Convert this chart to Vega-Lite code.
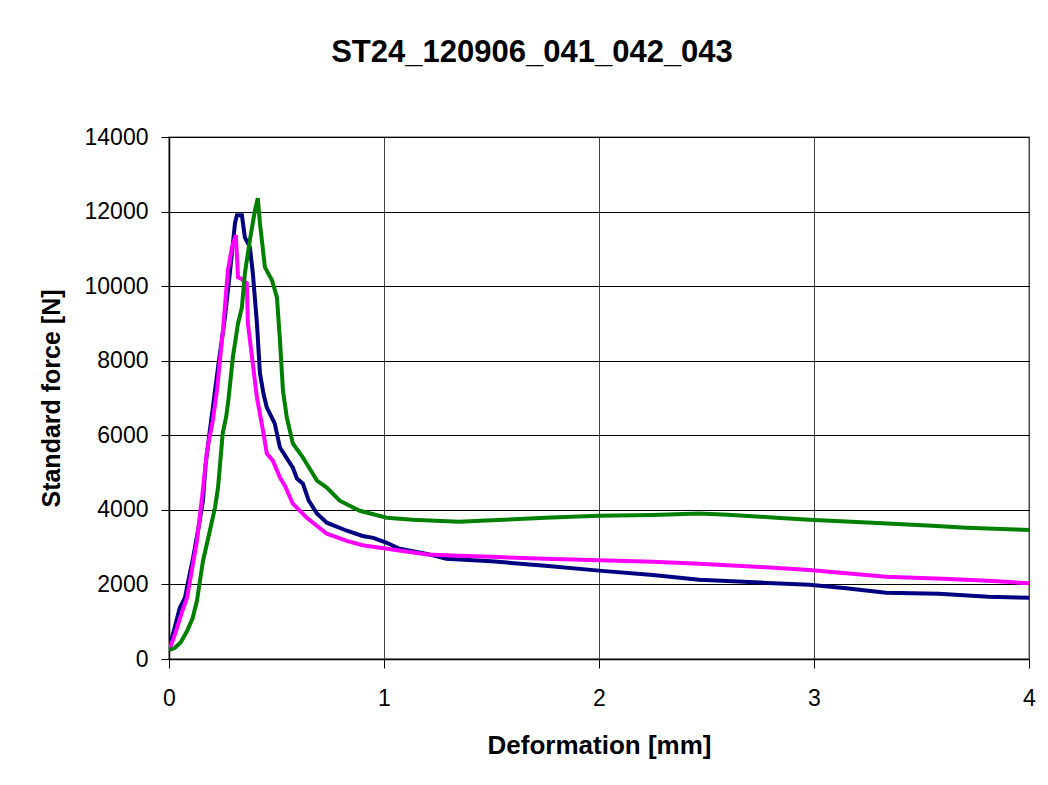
{
  "$schema": "https://vega.github.io/schema/vega-lite/v6.json",
  "autosize": {"type": "none"},
  "width": 860,
  "height": 522,
  "padding": {"left": 169, "top": 137, "right": 19, "bottom": 126},
  "background": "white",
  "title": {
    "text": "ST24_120906_041_042_043",
    "font": "Liberation Sans",
    "fontSize": 31,
    "fontWeight": "bold",
    "color": "black",
    "anchor": "middle",
    "baseline": "alphabetic",
    "dx": -67,
    "offset": 33
  },
  "config": {
    "view": {"stroke": "#8c8c8c", "strokeWidth": 1.5},
    "axis": {
      "labelFont": "Liberation Sans",
      "labelFontSize": 23,
      "labelColor": "black",
      "titleFont": "Liberation Sans",
      "titleFontWeight": "bold",
      "titleColor": "black",
      "domainColor": "black",
      "domainWidth": 1.5,
      "tickColor": "black",
      "tickWidth": 1,
      "gridOpacity": 1,
      "gridWidth": 1
    }
  },
  "data": {
    "values": [
      {"s": "041", "x": 0, "y": 300}, {"s": "041", "x": 0.02, "y": 700}, {"s": "041", "x": 0.05, "y": 1370}, {"s": "041", "x": 0.074, "y": 1640}, {"s": "041", "x": 0.09, "y": 2100}, {"s": "041", "x": 0.112, "y": 2710}, {"s": "041", "x": 0.135, "y": 3450}, {"s": "041", "x": 0.158, "y": 4245}, {"s": "041", "x": 0.17, "y": 5200}, {"s": "041", "x": 0.19, "y": 6130}, {"s": "041", "x": 0.204, "y": 6745}, {"s": "041", "x": 0.228, "y": 7820}, {"s": "041", "x": 0.26, "y": 9160}, {"s": "041", "x": 0.283, "y": 10345}, {"s": "041", "x": 0.307, "y": 11690}, {"s": "041", "x": 0.316, "y": 11900}, {"s": "041", "x": 0.339, "y": 11900}, {"s": "041", "x": 0.353, "y": 11310}, {"s": "041", "x": 0.376, "y": 11045}, {"s": "041", "x": 0.39, "y": 10345}, {"s": "041", "x": 0.409, "y": 9000}, {"s": "041", "x": 0.423, "y": 7660}, {"s": "041", "x": 0.44, "y": 7100}, {"s": "041", "x": 0.455, "y": 6745}, {"s": "041", "x": 0.492, "y": 6315}, {"s": "041", "x": 0.516, "y": 5670}, {"s": "041", "x": 0.576, "y": 5130}, {"s": "041", "x": 0.595, "y": 4840}, {"s": "041", "x": 0.623, "y": 4700}, {"s": "041", "x": 0.65, "y": 4250}, {"s": "041", "x": 0.688, "y": 3900}, {"s": "041", "x": 0.734, "y": 3655}, {"s": "041", "x": 0.827, "y": 3440}, {"s": "041", "x": 0.9, "y": 3300}, {"s": "041", "x": 0.95, "y": 3250}, {"s": "041", "x": 1.013, "y": 3117}, {"s": "041", "x": 1.073, "y": 2955}, {"s": "041", "x": 1.2, "y": 2820}, {"s": "041", "x": 1.29, "y": 2690}, {"s": "041", "x": 1.5, "y": 2620}, {"s": "041", "x": 1.75, "y": 2500}, {"s": "041", "x": 2.0, "y": 2370}, {"s": "041", "x": 2.25, "y": 2250}, {"s": "041", "x": 2.467, "y": 2123}, {"s": "041", "x": 2.75, "y": 2050}, {"s": "041", "x": 2.978, "y": 1990}, {"s": "041", "x": 3.15, "y": 1900}, {"s": "041", "x": 3.335, "y": 1775}, {"s": "041", "x": 3.58, "y": 1750}, {"s": "041", "x": 3.81, "y": 1670}, {"s": "041", "x": 4.0, "y": 1640},
      {"s": "042", "x": 0, "y": 215}, {"s": "042", "x": 0.03, "y": 700}, {"s": "042", "x": 0.06, "y": 1250}, {"s": "042", "x": 0.084, "y": 1640}, {"s": "042", "x": 0.107, "y": 2400}, {"s": "042", "x": 0.13, "y": 3170}, {"s": "042", "x": 0.155, "y": 4400}, {"s": "042", "x": 0.177, "y": 5590}, {"s": "042", "x": 0.204, "y": 6400}, {"s": "042", "x": 0.223, "y": 7200}, {"s": "042", "x": 0.251, "y": 8815}, {"s": "042", "x": 0.274, "y": 10425}, {"s": "042", "x": 0.293, "y": 11045}, {"s": "042", "x": 0.311, "y": 11370}, {"s": "042", "x": 0.321, "y": 10240}, {"s": "042", "x": 0.339, "y": 10185}, {"s": "042", "x": 0.355, "y": 10100}, {"s": "042", "x": 0.362, "y": 10080}, {"s": "042", "x": 0.367, "y": 9000}, {"s": "042", "x": 0.386, "y": 8090}, {"s": "042", "x": 0.409, "y": 7015}, {"s": "042", "x": 0.437, "y": 6130}, {"s": "042", "x": 0.455, "y": 5510}, {"s": "042", "x": 0.483, "y": 5320}, {"s": "042", "x": 0.516, "y": 4865}, {"s": "042", "x": 0.539, "y": 4650}, {"s": "042", "x": 0.576, "y": 4165}, {"s": "042", "x": 0.641, "y": 3790}, {"s": "042", "x": 0.734, "y": 3360}, {"s": "042", "x": 0.827, "y": 3170}, {"s": "042", "x": 0.9, "y": 3050}, {"s": "042", "x": 1.013, "y": 2955}, {"s": "042", "x": 1.2, "y": 2800}, {"s": "042", "x": 1.35, "y": 2770}, {"s": "042", "x": 1.5, "y": 2740}, {"s": "042", "x": 1.75, "y": 2690}, {"s": "042", "x": 2.0, "y": 2650}, {"s": "042", "x": 2.25, "y": 2610}, {"s": "042", "x": 2.467, "y": 2555}, {"s": "042", "x": 2.75, "y": 2470}, {"s": "042", "x": 2.978, "y": 2390}, {"s": "042", "x": 3.15, "y": 2300}, {"s": "042", "x": 3.335, "y": 2205}, {"s": "042", "x": 3.6, "y": 2150}, {"s": "042", "x": 3.81, "y": 2100}, {"s": "042", "x": 4.0, "y": 2030},
      {"s": "043", "x": 0, "y": 240}, {"s": "043", "x": 0.028, "y": 300}, {"s": "043", "x": 0.055, "y": 450}, {"s": "043", "x": 0.084, "y": 750}, {"s": "043", "x": 0.11, "y": 1100}, {"s": "043", "x": 0.13, "y": 1560}, {"s": "043", "x": 0.158, "y": 2630}, {"s": "043", "x": 0.19, "y": 3440}, {"s": "043", "x": 0.214, "y": 4060}, {"s": "043", "x": 0.228, "y": 4595}, {"s": "043", "x": 0.25, "y": 6060}, {"s": "043", "x": 0.266, "y": 6500}, {"s": "043", "x": 0.276, "y": 6930}, {"s": "043", "x": 0.297, "y": 8090}, {"s": "043", "x": 0.321, "y": 9000}, {"s": "043", "x": 0.339, "y": 9430}, {"s": "043", "x": 0.353, "y": 10345}, {"s": "043", "x": 0.376, "y": 11230}, {"s": "043", "x": 0.4, "y": 12040}, {"s": "043", "x": 0.413, "y": 12360}, {"s": "043", "x": 0.423, "y": 11690}, {"s": "043", "x": 0.446, "y": 10510}, {"s": "043", "x": 0.479, "y": 10160}, {"s": "043", "x": 0.502, "y": 9700}, {"s": "043", "x": 0.516, "y": 8550}, {"s": "043", "x": 0.53, "y": 7200}, {"s": "043", "x": 0.548, "y": 6475}, {"s": "043", "x": 0.576, "y": 5780}, {"s": "043", "x": 0.623, "y": 5400}, {"s": "043", "x": 0.669, "y": 4970}, {"s": "043", "x": 0.688, "y": 4785}, {"s": "043", "x": 0.734, "y": 4600}, {"s": "043", "x": 0.794, "y": 4245}, {"s": "043", "x": 0.887, "y": 3975}, {"s": "043", "x": 1.013, "y": 3790}, {"s": "043", "x": 1.134, "y": 3735}, {"s": "043", "x": 1.35, "y": 3680}, {"s": "043", "x": 1.5, "y": 3720}, {"s": "043", "x": 1.75, "y": 3790}, {"s": "043", "x": 2.0, "y": 3840}, {"s": "043", "x": 2.25, "y": 3860}, {"s": "043", "x": 2.467, "y": 3900}, {"s": "043", "x": 2.6, "y": 3870}, {"s": "043", "x": 2.825, "y": 3790}, {"s": "043", "x": 2.978, "y": 3735}, {"s": "043", "x": 3.27, "y": 3655}, {"s": "043", "x": 3.55, "y": 3575}, {"s": "043", "x": 3.71, "y": 3520}, {"s": "043", "x": 3.94, "y": 3470}, {"s": "043", "x": 4.0, "y": 3460}
    ]
  },
  "mark": {"type": "line", "strokeWidth": 4, "clip": true},
  "encoding": {
    "x": {
      "field": "x",
      "type": "quantitative",
      "scale": {"domain": [0, 4], "nice": false, "zero": false},
      "axis": {
        "title": "Deformation [mm]",
        "titleFontSize": 26,
        "titlePadding": 22,
        "values": [0, 1, 2, 3, 4],
        "format": "d",
        "tickSize": 9,
        "labelPadding": 19,
        "labelFlush": false,
        "gridColor": "#444444"
      }
    },
    "y": {
      "field": "y",
      "type": "quantitative",
      "scale": {"domain": [0, 14000], "nice": false},
      "axis": {
        "title": "Standard force [N]",
        "titleFontSize": 25,
        "titlePadding": 20,
        "values": [0, 2000, 4000, 6000, 8000, 10000, 12000, 14000],
        "format": "d",
        "tickSize": 8,
        "labelPadding": 13,
        "labelFlush": false,
        "gridColor": "black"
      }
    },
    "color": {
      "field": "s",
      "type": "nominal",
      "scale": {"domain": ["041", "042", "043"], "range": ["#000080", "#FF00FF", "#008000"]},
      "legend": null
    }
  }
}
